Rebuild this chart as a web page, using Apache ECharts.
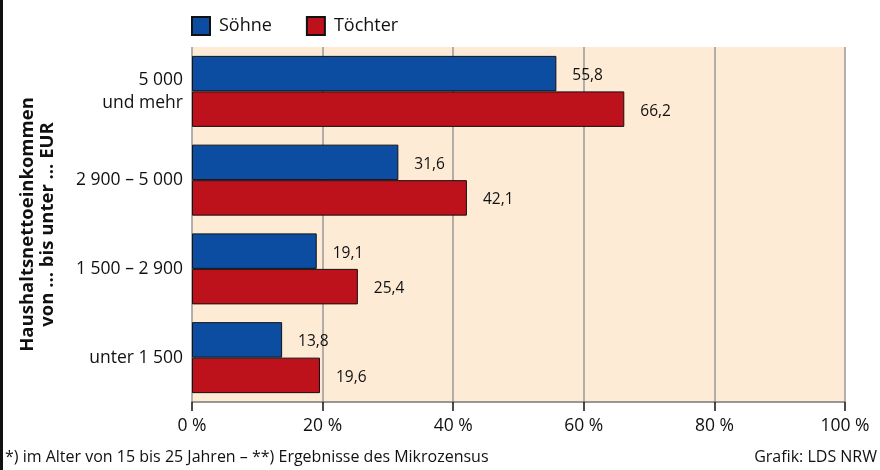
<!DOCTYPE html>
<html>
<head>
<meta charset="utf-8">
<script src="https://cdn.jsdelivr.net/npm/echarts@6/dist/echarts.min.js"></script>
<style>
  html, body { margin: 0; padding: 0; background: #fff; }
  #chart { width: 880px; height: 470px; }
</style>
</head>
<body>
<div id="chart"></div>
<script>
var categories = ['unter 1 500', '1 500 – 2 900', '2 900 – 5 000', '5 000\nund mehr'];
var soehne = [13.8, 19.1, 31.6, 55.8];
var toechter = [19.6, 25.4, 42.1, 66.2];
var xTicks = [0, 20, 40, 60, 80, 100];

var font = '"Open Sans", "Noto Sans", sans-serif';
var chart = echarts.init(document.getElementById('chart'));

function fmt(v) {
  return String(v.toFixed(1)).replace('.', ',');
}

var barLabel = {
  show: true,
  position: 'right',
  distance: 16,
  offset: [0, 2],
  fontSize: 15.5,
  color: '#111',
  fontFamily: font,
  formatter: function (p) { return fmt(p.value); }
};

var option = {
  animation: false,
  textStyle: { fontFamily: font },
  legend: {
    top: 11,
    left: 186,
    itemWidth: 18,
    itemHeight: 18,
    itemGap: 34,
    icon: 'rect',
    textStyle: { fontSize: 18, color: '#111', fontFamily: font, padding: [0, 0, 0, 4] },
    data: ['Söhne', 'Töchter']
  },
  grid: {
    left: 192,
    right: 35,
    top: 47,
    bottom: 68,
    outerBoundsMode: 'none',
    containLabel: false,
    show: true,
    backgroundColor: '#fdebd5',
    borderWidth: 0
  },
  xAxis: {
    type: 'value',
    min: 0,
    max: 100,
    interval: 20,
    axisLine: { show: true, lineStyle: { color: '#777', width: 1.5 } },
    axisTick: { show: true, length: 9, lineStyle: { color: '#111', width: 1.5 } },
    splitLine: { show: true, lineStyle: { color: '#999', width: 1.5 } },
    axisLabel: {
      fontSize: 17.5,
      color: '#111',
      margin: 15,
      fontFamily: font,
      formatter: function (v) { return xTicks.indexOf(v) >= 0 ? v + ' %' : ''; }
    }
  },
  yAxis: {
    type: 'category',
    data: categories,
    name: 'Haushaltsnettoeinkommen\nvon … bis unter … EUR',
    nameLocation: 'middle',
    nameGap: 134,
    nameRotate: 90,
    nameTextStyle: { fontSize: 18.5, fontWeight: 'bold', color: '#111', lineHeight: 20, fontFamily: font },
    axisLine: { show: false },
    axisTick: { show: false },
    axisLabel: { fontSize: 17.5, color: '#111', margin: 9, lineHeight: 23, fontFamily: font }
  },
  series: [
    {
      name: 'Söhne',
      type: 'bar',
      data: soehne,
      barGap: '0%',
      barCategoryGap: '20%',
      itemStyle: { color: '#0c4da1', borderColor: '#111', borderWidth: 1 },
      label: barLabel
    },
    {
      name: 'Töchter',
      type: 'bar',
      data: toechter,
      itemStyle: { color: '#bd111b', borderColor: '#111', borderWidth: 1 },
      label: barLabel
    }
  ],
  graphic: [
    {
      type: 'rect',
      left: 0,
      top: 0,
      shape: { width: 3, height: 470 },
      style: { fill: '#111' }
    },
    {
      type: 'text',
      left: 5,
      top: 449,
      style: { text: '*) im Alter von 15 bis 25 Jahren – **) Ergebnisse des Mikrozensus', fontSize: 16, fill: '#111', fontFamily: font }
    },
    {
      type: 'text',
      right: 3,
      top: 449,
      style: { text: 'Grafik: LDS NRW', fontSize: 16, fill: '#111', fontFamily: font }
    }
  ]
};

chart.setOption(option);
</script>
</body>
</html>
